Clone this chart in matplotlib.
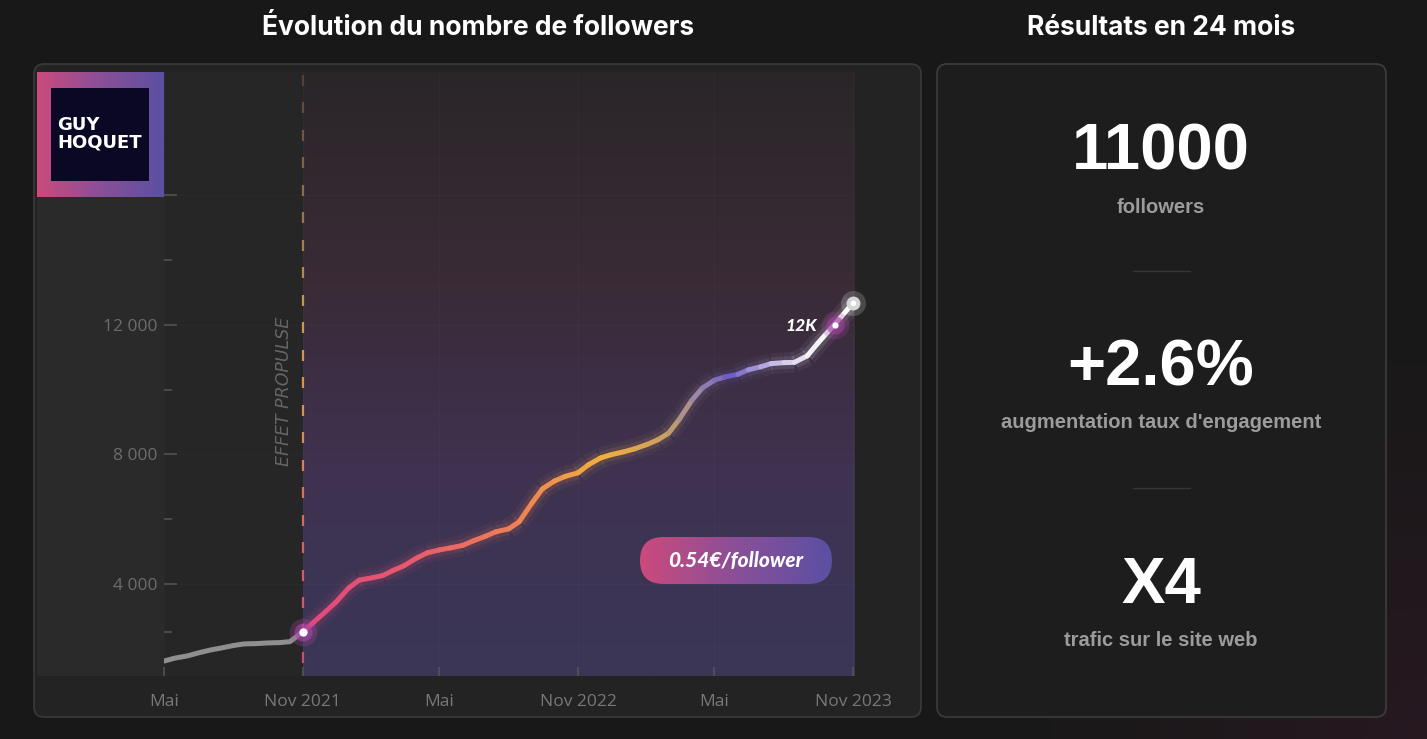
import numpy as np
import pandas as pd
import matplotlib
matplotlib.use("Agg")
import matplotlib.pyplot as plt
import matplotlib.dates as mdates
from matplotlib.collections import LineCollection
from matplotlib.colors import LinearSegmentedColormap
from matplotlib.patches import FancyBboxPatch, Rectangle

# ------------------------------------------------------------------ donnees
# releves tous les demi-mois (1er et 15 du mois), mai 2021 -> nov 2023
dates = pd.date_range("2021-05-01", "2023-11-01", freq="SMS")
followers = [1620, 1710, 1780, 1870, 1960, 2020, 2100, 2150, 2160, 2180, 2190,
             2220, 2520, 2810, 3140, 3440, 3880, 4120, 4190, 4260, 4420, 4560,
             4800, 4960, 5050, 5110, 5190, 5330, 5470, 5610, 5700, 5920, 6500,
             6940, 7180, 7320, 7430, 7680, 7890, 7990, 8080, 8170, 8310, 8450,
             8650, 9070, 9670, 10050, 10290, 10390, 10470, 10610, 10700, 10800,
             10830, 10840, 11040, 11430, 11850, 12220, 12680]
debut_effet = pd.Timestamp("2021-11-01")
jalon_date = pd.Timestamp("2023-10-08")
jalon_val = 12000
jalon_txt = "12K"

xticks_dates = pd.to_datetime(["2021-05-01", "2021-11-01", "2022-05-01",
                               "2022-11-01", "2023-05-01", "2023-11-01"])
xticks_txt = ["Mai", "Nov 2021", "Mai", "Nov 2022", "Mai", "Nov 2023"]
yticks_vals = [4000, 8000, 12000, 16000]
yticks_txt = ["4 000", "8 000", "12 000", ""]
yminor_vals = [2520, 6000, 10000, 14000]

titre_gauche = "Évolution du nombre de followers"
titre_droite = "Résultats en 24 mois"
resultats = ["11000", "+2.6%", "X4"]
resultats_txt = ["followers", "augmentation taux d'engagement", "trafic sur le site web"]
cout_txt = "0.54€/follower"
effet_txt = "EFFET PROPULSE"
logo_lignes = ["GUY", "HOQUET"]

# ------------------------------------------------------------------ couleurs
cmap_ligne = LinearSegmentedColormap.from_list("ligne", [
    (0.0, "#e0477f"), (0.2, "#e65a6e"), (0.42, "#ee8850"), (0.55, "#f2b03f"),
    (0.66, "#c9a062"), (0.72, "#9a86a8"), (0.78, "#6e5ec4"), (0.86, "#c4bce4"),
    (0.93, "#f4f2f8"), (1.0, "#ffffff")])
cmap_fond = LinearSegmentedColormap.from_list("fond", [
    (0.0, "#3b3657"), (0.35, "#3f3250"), (0.65, "#3a2b37"), (1.0, "#2a2628")])
cmap_tirets = LinearSegmentedColormap.from_list("tirets", [
    (0.0, "#cc4878"), (0.25, "#d06868"), (0.42, "#d8905a"), (0.6, "#c89a52"),
    (0.78, "#957050"), (1.0, "#4e4036")])
cmap_pill = LinearSegmentedColormap.from_list("pill", ["#cc4a7c", "#8a4f98", "#5b4fa3"])

W, H = 1427, 739
fig = plt.figure(figsize=(W / 100, H / 100), dpi=100)
fig.patch.set_facecolor("#181818")

# fond general en pixels
bg = fig.add_axes([0, 0, 1, 1])
bg.set_xlim(0, W)
bg.set_ylim(H, 0)
bg.axis("off")
yy, xx = np.mgrid[0:H:4, 0:W:4]
t = np.clip(1 - np.hypot(xx - W, yy - H) / 520, 0, 1) ** 1.6
base = np.array([24, 24, 24]) / 255
teinte = np.array([40, 24, 33]) / 255
img = base + (teinte - base) * t[..., None]
bg.imshow(img, extent=[0, W, H, 0], aspect="auto", zorder=0)

bg.add_patch(FancyBboxPatch((34, 64), 887, 653, boxstyle="round,pad=0,rounding_size=10",
                            fc="#232323", ec="#3a3a3a", lw=1.2, zorder=1))
bg.add_patch(Rectangle((37, 72), 127, 604, fc="#2a2a2a", ec="none", zorder=1.5))
bg.add_patch(FancyBboxPatch((937, 64), 449, 653, boxstyle="round,pad=0,rounding_size=10",
                            fc="#1d1d1d", ec="#3d3d3d", lw=1.2, zorder=1))

police_titre = ["Inter", "DejaVu Sans"]
bg.text(478, 35, titre_gauche, ha="center", va="baseline", color="white",
        fontsize=19, fontweight="bold", family=police_titre, zorder=3)
bg.text(1161, 35, titre_droite, ha="center", va="baseline", color="white",
        fontsize=19, fontweight="bold", family=police_titre, zorder=3)

# colonne resultats
base_chiffres = [170, 386, 603]
base_legendes = [213, 428, 646]
for val, leg, yb, yl in zip(resultats, resultats_txt, base_chiffres, base_legendes):
    bg.text(1161, yb, val, ha="center", va="baseline", color="white", fontsize=47,
            fontweight="bold", family=["Liberation Sans", "DejaVu Sans"], zorder=3)
    bg.text(1161, yl, leg, ha="center", va="baseline", color="#9c9c9c", fontsize=14.5,
            fontweight="bold", family=["Liberation Sans", "DejaVu Sans"], zorder=3)
for ys in [271, 488]:
    bg.plot([1133, 1190], [ys, ys], color="#363636", lw=1, zorder=3)

# ------------------------------------------------------------------ graphique
ax = fig.add_axes([164 / W, (H - 676) / H, (854 - 164) / W, (676 - 72) / H])
ax.set_facecolor("#262626")
for s in ax.spines.values():
    s.set_visible(False)

xn = mdates.date2num(dates.to_pydatetime())
yv = np.array(followers, dtype=float)
x0 = mdates.date2num(debut_effet.to_pydatetime())
xmin = xn[0]
xmax = mdates.date2num(pd.Timestamp("2023-11-02").to_pydatetime())
ymin, ymax = 1160, 19800

grad = np.linspace(0, 1, 256)[:, None]
ax.imshow(grad, cmap=cmap_fond, extent=[x0, xmax, ymin, ymax], origin="lower",
          aspect="auto", zorder=0.2)

ax.set_xlim(xmin, xmax)
ax.set_ylim(ymin, ymax)
ax.set_axisbelow(True)
ax.grid(True, which="major", color="white", alpha=0.018, lw=1)

ax.set_xticks(mdates.date2num(xticks_dates.to_pydatetime()))
ax.set_xticklabels(xticks_txt)
ax.set_yticks(yticks_vals)
ax.set_yticklabels(yticks_txt)
ax.set_yticks(yminor_vals, minor=True)
ax.tick_params(axis="x", direction="in", length=6.5, width=1.1, color="#555555",
               pad=13, labelsize=12.5, labelcolor="#787878")
ax.tick_params(axis="y", which="major", direction="in", length=9.5, width=1.1,
               color="#555555", pad=4.5, labelsize=12.5, labelcolor="#6c6c6c")
ax.tick_params(axis="y", which="minor", direction="in", length=6, width=1.1,
               color="#555555")
for lab in ax.get_xticklabels() + ax.get_yticklabels():
    lab.set_family(["Open Sans", "DejaVu Sans"])

# ligne pointillee "effet propulse"
per, tir, dec = 27.5 / 604, 11 / 604, 2.5 / 604
segs_t, cols_t = [], []
k = 0
while 1 - dec - k * per > 0:
    haut = 1 - dec - k * per
    bas = max(haut - tir, 0)
    segs_t.append([(x0, haut), (x0, bas)])
    cols_t.append(cmap_tirets((haut + bas) / 2))
    k += 1
ax.add_collection(LineCollection(segs_t, colors=cols_t, linewidths=1.6,
                                 transform=ax.get_xaxis_transform(), zorder=1))
ax.annotate(effet_txt, xy=(x0, 0.472), xycoords=("data", "axes fraction"),
            xytext=(-13.5, 0), textcoords="offset points", rotation=90,
            ha="center", va="center", style="italic", color="#666666",
            fontsize=12.5, family=["DejaVu Sans"], zorder=2)

# courbe
i0 = int(np.where(xn == x0)[0][0])
ax.plot(xn[:i0 + 1], yv[:i0 + 1], color="#8f8f8f", lw=3.6,
        solid_capstyle="round", solid_joinstyle="round", zorder=3)
pts = np.column_stack([xn, yv])
segs = [pts[i:i + 2] for i in range(i0, len(pts) - 1)]
frac = ((xn[i0:-1] + xn[i0 + 1:]) / 2 - x0) / (xn[-1] - x0)
cols = cmap_ligne(frac)
for lw, a in [(15, 0.06), (9, 0.12)]:
    ax.add_collection(LineCollection(segs, colors=cols, linewidths=lw, alpha=a,
                                     capstyle="butt", zorder=3))
ax.add_collection(LineCollection(segs, colors=cols, linewidths=3.6,
                                 capstyle="round", joinstyle="round", zorder=4))

# points remarquables
ax.plot(x0, yv[i0], "o", ms=20, color="#b04aa8", alpha=0.25, mec="none", zorder=5)
ax.plot(x0, yv[i0], "o", ms=13, color="#a847a8", alpha=0.6, mec="none", zorder=5)
ax.plot(x0, yv[i0], "o", ms=6, color="white", mec="none", zorder=6)

xj = mdates.date2num(jalon_date.to_pydatetime())
ax.plot(xj, jalon_val, "o", ms=20, color="#a0409e", alpha=0.25, mec="none", zorder=5)
ax.plot(xj, jalon_val, "o", ms=13, color="#9c3f9c", alpha=0.6, mec="none", zorder=5)
ax.plot(xj, jalon_val, "o", ms=4.5, color="white", mec="none", zorder=6)
ax.annotate(jalon_txt, xy=(xj, jalon_val), xytext=(-13, -1), textcoords="offset points",
            ha="right", va="center", color="white", fontsize=12.5, fontweight=900,
            style="italic", family=["Lato", "DejaVu Sans"], zorder=6)

ax.plot(xn[-1], yv[-1], "o", ms=18, color="white", alpha=0.18, mec="none",
        zorder=5, clip_on=False)
ax.plot(xn[-1], yv[-1], "o", ms=10, color="#d6d6d6", mec="none", zorder=6, clip_on=False)
ax.plot(xn[-1], yv[-1], "o", ms=4, color="white", mec="none", zorder=7, clip_on=False)

# ------------------------------------------------------------------ etiquette cout
pax = fig.add_axes([640 / W, (H - 584) / H, 192 / W, 47 / H])
pax.set_xlim(0, 192)
pax.set_ylim(0, 47)
pax.axis("off")
im = pax.imshow(np.linspace(0, 1, 256)[None, :], cmap=cmap_pill,
                extent=[0, 192, 0, 47], aspect="auto")
forme = FancyBboxPatch((0, 0), 192, 47, boxstyle="round,pad=0,rounding_size=23.5",
                       transform=pax.transData)
im.set_clip_path(forme)
pax.text(96, 23.5, cout_txt, ha="center", va="center", color="white", fontsize=15,
         fontweight=900, style="italic", family=["Lato", "DejaVu Sans"])

# ------------------------------------------------------------------ logo
lax = fig.add_axes([37 / W, (H - 197) / H, 127 / W, 125 / H])
lax.set_xlim(0, 127)
lax.set_ylim(125, 0)
lax.axis("off")
lax.imshow(np.linspace(0, 1, 256)[None, :], cmap=cmap_pill,
           extent=[0, 127, 125, 0], aspect="auto")
lax.add_patch(Rectangle((14, 16), 98, 93, fc="#0b0826", ec="none"))
lax.text(20, 58, logo_lignes[0], ha="left", va="baseline", color="white",
         fontsize=13, fontweight="semibold", family=["DejaVu Sans"])
lax.text(20, 76, logo_lignes[1], ha="left", va="baseline", color="white",
         fontsize=13, fontweight="semibold", family=["DejaVu Sans"])

fig.savefig("out.png", dpi=100, facecolor=fig.get_facecolor())
